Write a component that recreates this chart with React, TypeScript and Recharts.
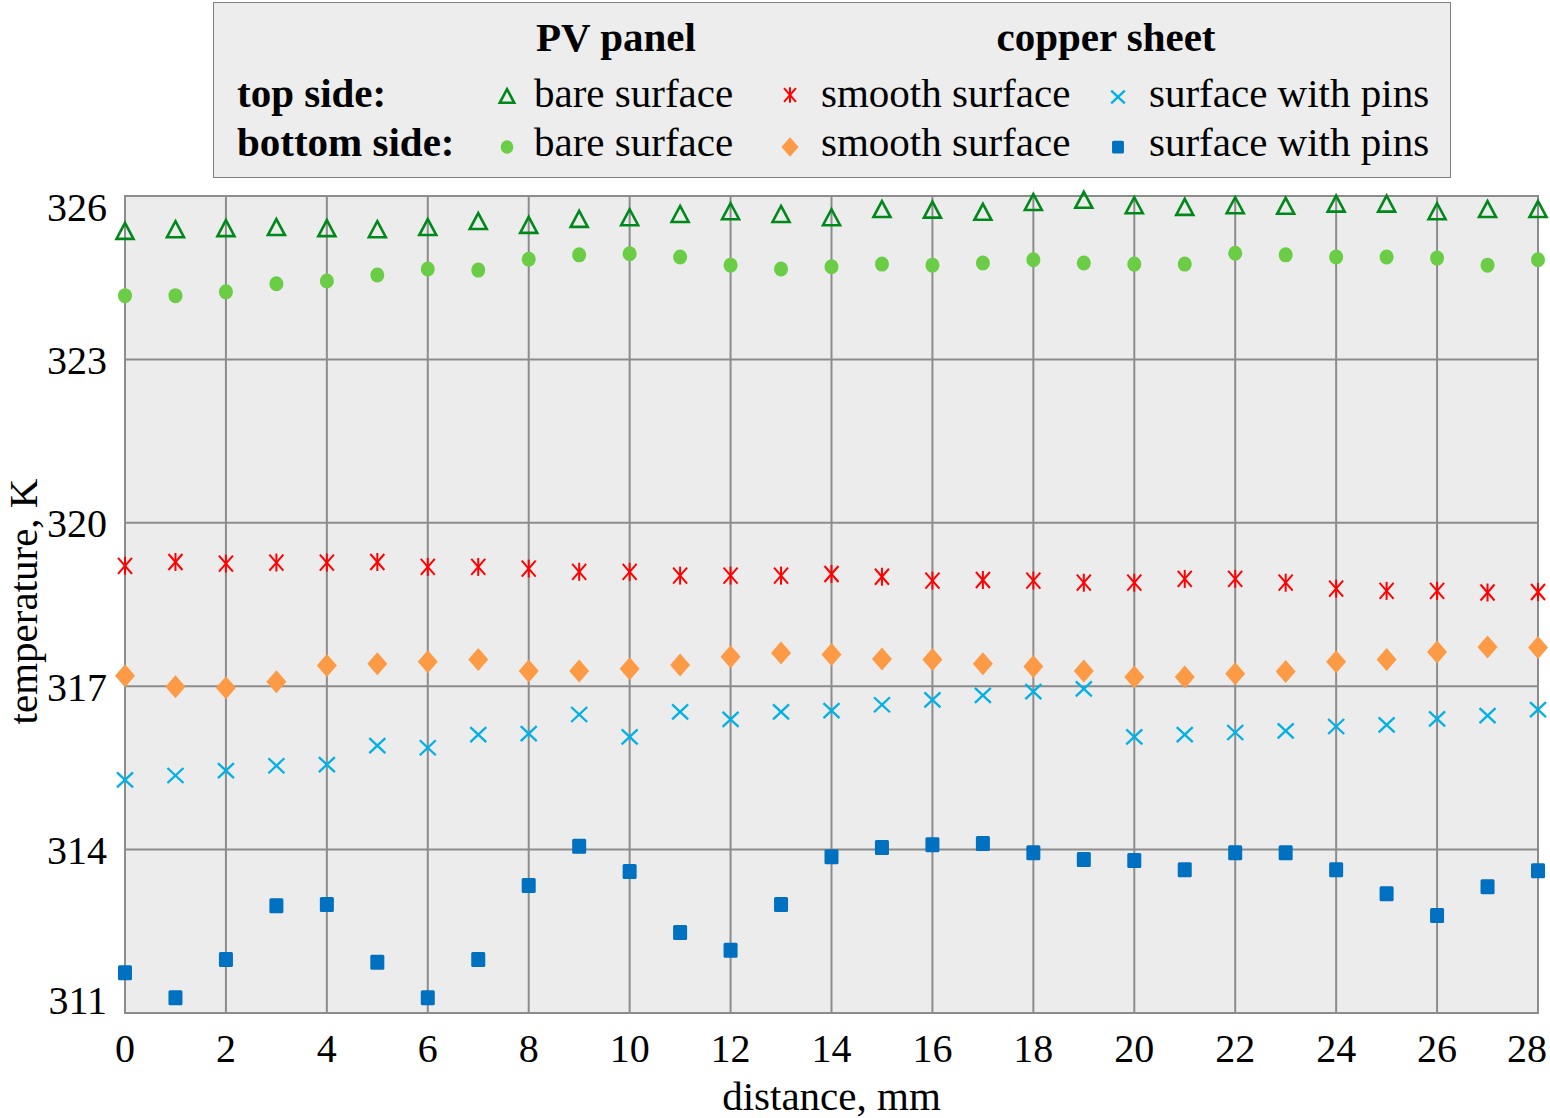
import React from "react";
import {
  ScatterChart,
  Scatter,
  XAxis,
  YAxis,
  CartesianGrid,
  ReferenceArea,
  Legend,
} from "recharts";

// distance along the sample, mm
const distance = [0, 1, 2, 3, 4, 5, 6, 7, 8, 9, 10, 11, 12, 13, 14, 15, 16, 17, 18, 19, 20, 21, 22, 23, 24, 25, 26, 27, 28];
const xTicks = [0, 2, 4, 6, 8, 10, 12, 14, 16, 18, 20, 22, 24, 26, 28];
const yTicks = [311, 314, 317, 320, 323, 326];

// temperatures, K
const topBare = [325.36, 325.39, 325.41, 325.43, 325.41, 325.39, 325.43, 325.54, 325.47, 325.58, 325.61, 325.67, 325.72, 325.67, 325.61, 325.76, 325.75, 325.71, 325.89, 325.93, 325.83, 325.8, 325.83, 325.82, 325.86, 325.86, 325.72, 325.76, 325.76];
const bottomBare = [324.17, 324.17, 324.24, 324.39, 324.44, 324.55, 324.66, 324.64, 324.84, 324.92, 324.94, 324.88, 324.73, 324.66, 324.7, 324.75, 324.73, 324.77, 324.83, 324.77, 324.75, 324.75, 324.95, 324.92, 324.88, 324.88, 324.86, 324.73, 324.83];
const topSmooth = [319.21, 319.28, 319.25, 319.27, 319.27, 319.28, 319.19, 319.19, 319.16, 319.1, 319.1, 319.03, 319.03, 319.03, 319.06, 319.01, 318.94, 318.95, 318.94, 318.9, 318.9, 318.97, 318.97, 318.9, 318.79, 318.75, 318.75, 318.72, 318.73];
const bottomSmooth = [317.19, 316.99, 316.97, 317.08, 317.38, 317.41, 317.45, 317.49, 317.28, 317.28, 317.32, 317.39, 317.54, 317.61, 317.58, 317.5, 317.49, 317.41, 317.36, 317.28, 317.17, 317.17, 317.23, 317.27, 317.45, 317.49, 317.63, 317.72, 317.71];
const topPins = [315.28, 315.36, 315.45, 315.54, 315.56, 315.91, 315.87, 316.11, 316.13, 316.48, 316.07, 316.53, 316.39, 316.53, 316.55, 316.66, 316.75, 316.83, 316.9, 316.95, 316.07, 316.11, 316.15, 316.18, 316.26, 316.29, 316.4, 316.46, 316.57];
const bottomPins = [311.74, 311.28, 311.98, 312.97, 312.99, 311.93, 311.28, 311.98, 313.34, 314.06, 313.6, 312.48, 312.15, 312.99, 313.87, 314.04, 314.09, 314.11, 313.94, 313.82, 313.8, 313.63, 313.94, 313.94, 313.63, 313.19, 312.79, 313.32, 313.61];

const FONT = '"Liberation Serif", "Times New Roman", serif';
const GRID = "#8c8c8c";
const BG = "#ebeceb";

const C = {
  topBare: "#00891a",
  bottomBare: "#6acd45",
  topSmooth: "#ff0000",
  bottomSmooth: "#fd9a45",
  topPins: "#00b0e6",
  bottomPins: "#0070c0",
};

const toPoints = (values: number[]) => distance.map((d, i) => ({ x: d, y: values[i] }));

type MarkProps = { cx?: number; cy?: number; s?: number };

const TriangleMark = ({ cx = 0, cy = 0, s = 1 }: MarkProps) => {
  const w = 8.5 * s;
  const h = 8 * s;
  return (
    <polygon
      points={`${cx},${cy - h} ${cx + w},${cy + h} ${cx - w},${cy + h}`}
      fill="none"
      stroke={C.topBare}
      strokeWidth={2.6}
      strokeLinejoin="miter"
    />
  );
};

const DotMark = ({ cx = 0, cy = 0, s = 1 }: MarkProps) => (
  <ellipse cx={cx} cy={cy} rx={7 * s} ry={7.5 * s} fill={C.bottomBare} />
);

const StarMark = ({ cx = 0, cy = 0, s = 1 }: MarkProps) => {
  const w = 7 * s;
  const h = 8 * s;
  return (
    <g stroke={C.topSmooth} strokeWidth={2}>
      <line x1={cx - w} y1={cy - h} x2={cx + w} y2={cy + h} />
      <line x1={cx - w} y1={cy + h} x2={cx + w} y2={cy - h} />
      <line x1={cx} y1={cy - h - 1} x2={cx} y2={cy + h + 1} />
    </g>
  );
};

const DiamondMark = ({ cx = 0, cy = 0, s = 1 }: MarkProps) => {
  const w = 10 * s;
  const h = 11.5 * s;
  return (
    <polygon
      points={`${cx},${cy - h} ${cx + w},${cy} ${cx},${cy + h} ${cx - w},${cy}`}
      fill={C.bottomSmooth}
    />
  );
};

const CrossMark = ({ cx = 0, cy = 0, s = 1 }: MarkProps) => {
  const w = 8 * s;
  const h = 7.5 * s;
  return (
    <g stroke={C.topPins} strokeWidth={2.3}>
      <line x1={cx - w} y1={cy - h} x2={cx + w} y2={cy + h} />
      <line x1={cx - w} y1={cy + h} x2={cx + w} y2={cy - h} />
    </g>
  );
};

const SquareMark = ({ cx = 0, cy = 0, s = 1 }: MarkProps) => (
  <rect x={cx - 7 * s} y={cy - 7.5 * s} width={14 * s} height={15 * s} rx={1.5} fill={C.bottomPins} />
);

const XTick = (props: any) => {
  const { x, y, payload } = props;
  // last label is pulled inside the figure edge
  const shift = payload.value === 28 ? -11 : 0;
  return (
    <text x={x + shift} y={y + 35} dy="0.36em" textAnchor="middle" fontFamily={FONT} fontSize={40} fill="#000">
      {payload.value}
    </text>
  );
};

const YTick = (props: any) => {
  const { x, y, payload } = props;
  // end labels sit inside the plot edge, as in the source figure
  let shift = 0;
  if (payload.value === 326) shift = 11;
  if (payload.value === 311) shift = -13;
  return (
    <text x={x} y={y + shift} dy="0.36em" textAnchor="end" fontFamily={FONT} fontSize={40} fill="#000">
      {payload.value}
    </text>
  );
};

const XLabel = (props: any) => {
  const { viewBox } = props;
  const cx = viewBox.x + viewBox.width / 2;
  return (
    <text x={cx} y={1095} dy="0.36em" textAnchor="middle" fontFamily={FONT} fontSize={41} fill="#000">
      distance, mm
    </text>
  );
};

const YLabel = (props: any) => {
  const { viewBox } = props;
  const cy = viewBox.y + viewBox.height / 2 - 3;
  const cx = 22;
  return (
    <text
      x={cx}
      y={cy}
      dy="0.36em"
      textAnchor="middle"
      transform={`rotate(-90 ${cx} ${cy})`}
      fontFamily={FONT}
      fontSize={41}
      fill="#000"
    >
      temperature, K
    </text>
  );
};

const LegendBox = () => {
  const txt = { fontFamily: FONT, fontSize: 41, fill: "#000" };
  const bold = { ...txt, fontWeight: 700 };
  return (
    <div
      style={{
        width: 1238,
        height: 176,
        boxSizing: "border-box",
        border: "1.5px solid #7f7f7f",
        background: "#ecedec",
      }}
    >
      <svg width={1236} height={174} style={{ display: "block" }}>
        <text x={402} y={48} textAnchor="middle" {...bold}>PV panel</text>
        <text x={892} y={48} textAnchor="middle" {...bold}>copper sheet</text>
        <text x={23} y={104} {...bold}>top side:</text>
        <text x={23} y={153} {...bold}>bottom side:</text>

        <TriangleMark cx={293} cy={93} s={0.85} />
        <text x={320} y={104} {...txt}>bare surface</text>
        <StarMark cx={576} cy={92} s={0.85} />
        <text x={607} y={104} {...txt}>smooth surface</text>
        <CrossMark cx={904} cy={94} s={0.85} />
        <text x={935} y={104} {...txt}>surface with pins</text>

        <DotMark cx={293} cy={144} s={0.9} />
        <text x={320} y={153} {...txt}>bare surface</text>
        <DiamondMark cx={576} cy={144} s={0.85} />
        <text x={607} y={153} {...txt}>smooth surface</text>
        <SquareMark cx={904} cy={144} s={0.85} />
        <text x={935} y={153} {...txt}>surface with pins</text>
      </svg>
    </div>
  );
};

export default function App() {
  return (
    <div style={{ position: "absolute", left: 0, top: 0, width: 1550, height: 1118, background: "#fff" }}>
      <ScatterChart width={1550} height={1118} margin={{ top: 196, right: 12, bottom: 45, left: 65 }}>
        <CartesianGrid stroke={GRID} strokeWidth={2} fill={BG} fillOpacity={1} />
        <XAxis
          type="number"
          dataKey="x"
          domain={[0, 28]}
          ticks={xTicks}
          interval={0}
          height={60}
          axisLine={false}
          tickLine={false}
          tickSize={0}
          tickMargin={0}
          tick={<XTick />}
          label={<XLabel />}
        />
        <YAxis
          type="number"
          dataKey="y"
          domain={[311, 326]}
          ticks={yTicks}
          interval={0}
          width={60}
          axisLine={false}
          tickLine={false}
          tickSize={0}
          tickMargin={18}
          tick={<YTick />}
          label={<YLabel />}
        />
        <ReferenceArea x1={0} x2={28} y1={311} y2={326} fill="none" stroke={GRID} strokeWidth={2} />
        <Legend
          layout="horizontal"
          verticalAlign="middle"
          align="center"
          width={1238}
          height={176}
          wrapperStyle={{ left: 213, top: 2, width: 1238, height: 176 }}
          content={() => <LegendBox />}
        />
        <Scatter name="top bare" data={toPoints(topBare)} isAnimationActive={false} shape={(p: any) => <TriangleMark cx={p.cx} cy={p.cy} />} />
        <Scatter name="bottom bare" data={toPoints(bottomBare)} isAnimationActive={false} shape={(p: any) => <DotMark cx={p.cx} cy={p.cy} />} />
        <Scatter name="top smooth" data={toPoints(topSmooth)} isAnimationActive={false} shape={(p: any) => <StarMark cx={p.cx} cy={p.cy} />} />
        <Scatter name="bottom smooth" data={toPoints(bottomSmooth)} isAnimationActive={false} shape={(p: any) => <DiamondMark cx={p.cx} cy={p.cy} />} />
        <Scatter name="top pins" data={toPoints(topPins)} isAnimationActive={false} shape={(p: any) => <CrossMark cx={p.cx} cy={p.cy} />} />
        <Scatter name="bottom pins" data={toPoints(bottomPins)} isAnimationActive={false} shape={(p: any) => <SquareMark cx={p.cx} cy={p.cy} />} />
      </ScatterChart>
    </div>
  );
}
